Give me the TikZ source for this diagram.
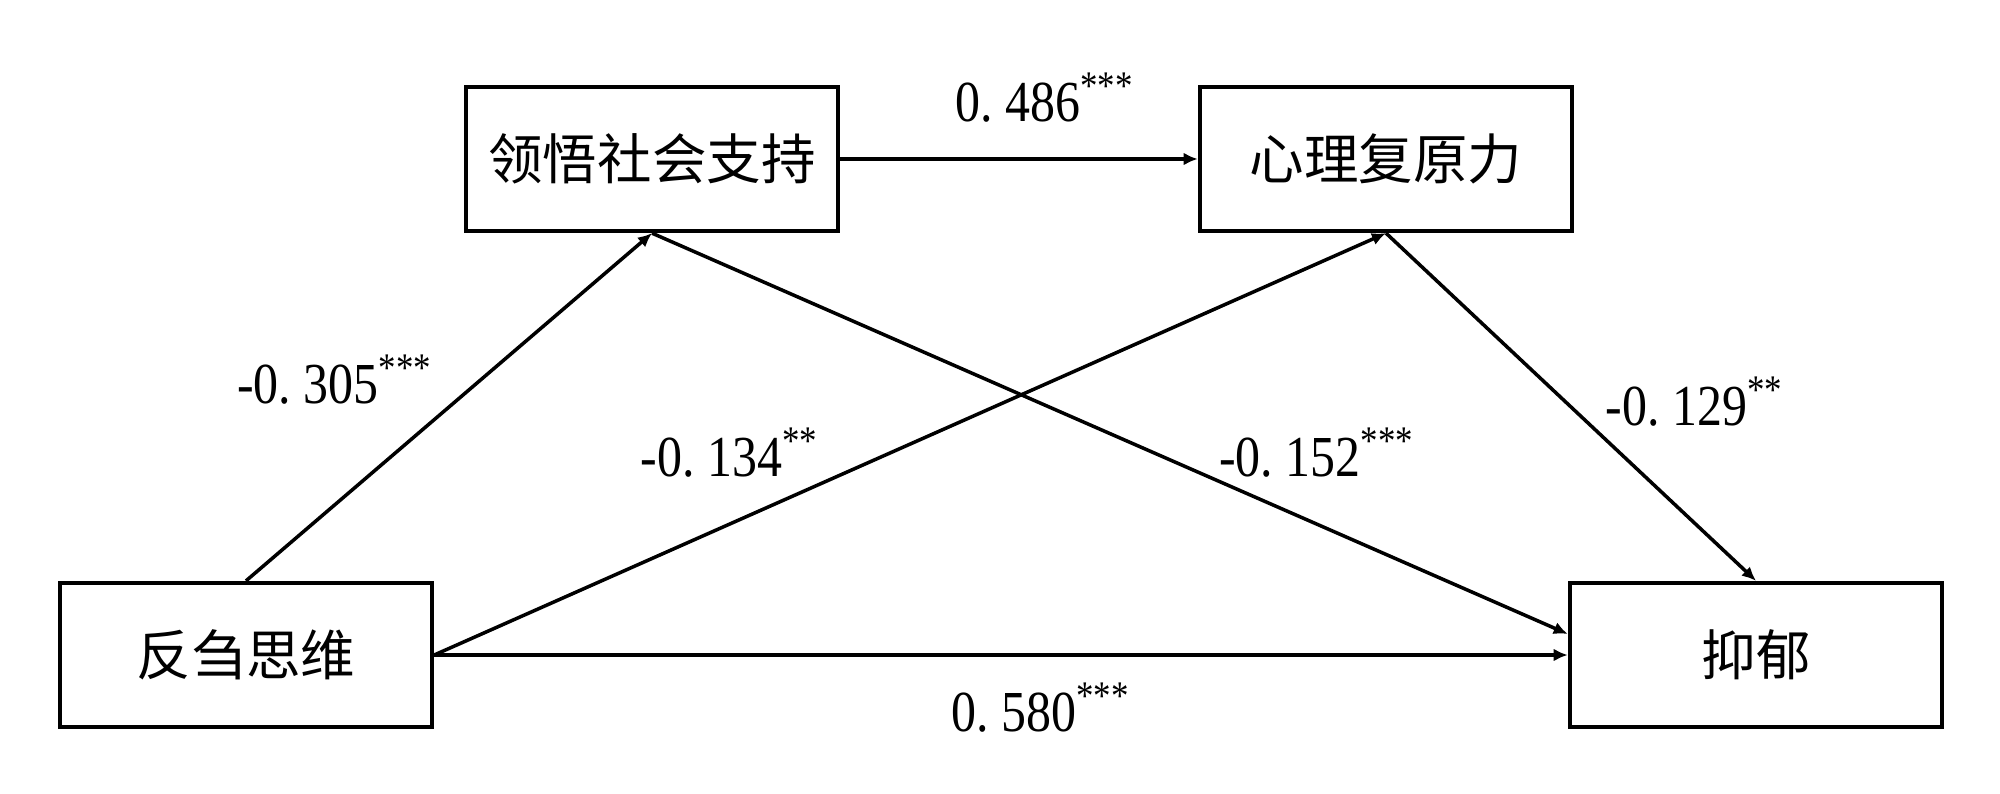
\documentclass[tikz,border=0pt]{standalone}
\usepackage{fontspec}
\usepackage{amsmath}
\usetikzlibrary{arrows.meta}
\newfontfamily\cjk{Noto Sans CJK SC}
\newfontfamily\numfont{Liberation Serif}[FakeStretch=0.86]
\newcommand{\coef}[2]{{\numfont #1\textsuperscript{#2}}}

\begin{document}
\begin{tikzpicture}[x=0.01cm, y=-0.01cm,
  var/.style={draw, line width=1.2pt, minimum width=3.72cm, minimum height=1.44cm, inner sep=0pt, font=\cjk\fontsize{15.5}{18}\selectfont},
  path/.style={line width=1pt, -{Latex[length=4pt,width=3.6pt]}},
  coeflabel/.style={inner sep=0pt, font=\fontsize{16.5}{19}\selectfont}]
\useasboundingbox (0,0) rectangle (2000,794);
% variables:
\node[var] (pss) at (652,159) {领悟社会支持};
\node[var] (res) at (1386,159) {心理复原力};
\node[var] (rum) at (246,655) {反刍思维};
\node[var] (dep) at (1756,655) {抑郁};
% paths:
\draw[path] (pss.east) -- (res.west);
\draw[path] (rum.north) -- (pss.south);
\draw[path] (rum.east) -- (res.south);
\draw[path] (pss.south) -- ([yshift=0.21cm]dep.west);
\draw[path] (res.south) -- (dep.north);
\draw[path] (rum.east) -- (dep.west);
% coefficients:
\node[coeflabel] (c1) at (1045,98) {\coef{0.~486}{***}};
\node[coeflabel] (c2) at (335,380) {\coef{-0.~305}{***}};
\node[coeflabel] (c3) at (730,453) {\coef{-0.~134}{**}};
\node[coeflabel] (c4) at (1317,453) {\coef{-0.~152}{***}};
\node[coeflabel] (c5) at (1695,402) {\coef{-0.~129}{**}};
\node[coeflabel] (c6) at (1041,708) {\coef{0.~580}{***}};
\end{tikzpicture}
\end{document}
